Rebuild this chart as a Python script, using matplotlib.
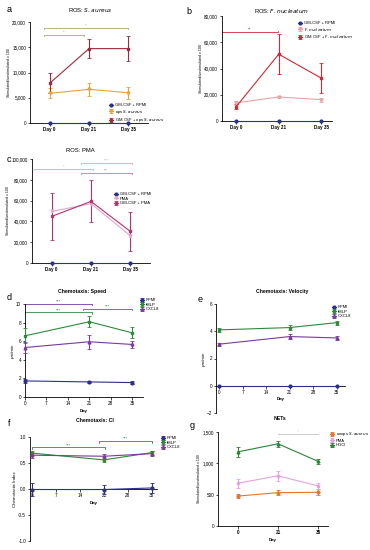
import numpy as np
import matplotlib
matplotlib.use('Agg')
import matplotlib.pyplot as plt

plt.rcParams['font.family'] = ['Liberation Sans', 'DejaVu Sans']

W, H = 370, 550

# ---- data ----
days_cat = ['Day 0', 'Day 21', 'Day 35']
days_num = [0, 21, 35]
day_ticks = [0, 7, 14, 21, 28, 35]

# a: ROS S. aureus
a_rpmi = [0, 0, 0]
a_ops = [5870, 6670, 6000]
a_ops_err = [1000, 1330, 1170]
a_gm_ops = [7870, 14730, 14730]
a_gm_ops_err = [2000, 1930, 2500]

# b: ROS F. nucleatum
b_rpmi = [0, 0, 0]
b_fn = [13800, 18300, 16300]
b_fn_err = [1500, 1000, 1500]
b_gm_fn = [10800, 50900, 32600]
b_gm_fn_err = [2000, 15300, 11300]

# c: ROS PMA
c_rpmi = [0, 0, 0]
c_pma = [49600, 57000, 26200]
c_gm_pma = [44800, 59200, 30400]
c_gm_pma_err = [22400, 20200, 18400]

# d: speed
d_rpmi = [1.73, 1.62, 1.55]
d_rpmi_err = [0.22, 0.15, 0.15]
d_fmlp = [6.58, 8.09, 6.9]
d_fmlp_err = [0.8, 0.6, 0.6]
d_cxcl8 = [5.32, 5.94, 5.65]
d_cxcl8_err = [0.62, 0.75, 0.4]

# e: velocity
e_rpmi = [0, 0, 0]
e_fmlp = [4.1, 4.27, 4.63]
e_fmlp_err = [0.15, 0.2, 0.15]
e_cxcl8 = [3.05, 3.61, 3.51]
e_cxcl8_err = [0.1, 0.2, 0.15]

# f: CI
f_rpmi = [-0.01, -0.01, 0.02]
f_rpmi_err = [0.12, 0.08, 0.1]
f_fmlp = [0.69, 0.56, 0.7]
f_fmlp_err = [0.04, 0.04, 0.04]
f_cxcl8 = [0.65, 0.63, 0.68]
f_cxcl8_err = [0.05, 0.05, 0.05]

# g: NETs
g_ops = [478, 532, 538]
g_ops_err = [25, 40, 50]
g_pma = [683, 801, 640]
g_pma_err = [70, 80, 50]
g_hocl = [1183, 1312, 1032]
g_hocl_err = [80, 50, 40]
g_days = ['0', '21', '35']

BLUE = '#2b2f8f'
GREEN = '#2f8a3b'
PURPLE = '#7a3a9e'

fig = plt.figure(figsize=(W / 100, H / 100), dpi=100)


def add_ax(l, r, t, b):
    return fig.add_axes([l / W, 1 - b / H, (r - l) / W, (b - t) / H])


def style(ax, fs=3.3):
    for s in ['top', 'right']:
        ax.spines[s].set_visible(False)
    for s in ['left', 'bottom']:
        ax.spines[s].set_linewidth(0.6)
    ax.tick_params(labelsize=fs, width=0.5, length=1.8, pad=1)


def series(ax, x, y, err, color, marker, label):
    ax.errorbar(x, y, yerr=err, color=color, marker=marker, ms=2, lw=0.8,
                elinewidth=0.8, capsize=1.2, capthick=0.6, label=label,
                clip_on=False, zorder=3)


def sig(ax, x0, x1, y, txt, color, tick):
    ax.plot([x0, x0, x1, x1], [y - tick, y, y, y - tick], color=color,
            lw=0.6, clip_on=False)
    ax.text((x0 + x1) / 2, y, txt, ha='center', va='bottom', fontsize=3.2,
            color=color)


def legend(ax, loc, anchor, fs=3.0):
    ax.legend(loc=loc, bbox_to_anchor=anchor, bbox_transform=fig.transFigure,
              frameon=False, fontsize=fs, handlelength=1.0, handletextpad=0.4,
              labelspacing=0.15, borderpad=0)


def title(ax, txt, x, y, bold=False, fs=4.2):
    fig.text(x / W, 1 - y / H, txt, ha='center', va='center', fontsize=fs,
             fontweight='bold' if bold else 'normal')


def letter(txt, x, y):
    fig.text(x / W, 1 - y / H, txt, ha='center', va='center', fontsize=6.5)


xc = np.arange(3)

# ---- a ----
ax = add_ax(30, 148, 22, 123)
style(ax)
series(ax, xc, a_rpmi, None, BLUE, 'o', 'GM-CSF + RPMI')
series(ax, xc, a_ops, a_ops_err, '#e8a33d', 'v', 'ops $\\it{S. aureus}$')
series(ax, xc, a_gm_ops, a_gm_ops_err, '#9e2a3c', 's',
       'GM-CSF + ops $\\it{S. aureus}$')
ax.set_xlim(-0.5, 2.5)
ax.set_ylim(0, 20000)
ax.set_yticks([0, 5000, 10000, 15000, 20000])
ax.set_yticklabels(['0', '5,000', '10,000', '15,000', '20,000'])
ax.set_xticks(xc)
ax.set_xticklabels(days_cat, fontweight='bold')
ax.set_ylabel('Stimulated/unstimulated x 100', fontsize=2.6, labelpad=1)
sig(ax, -0.15, 2.0, 18800, '*', '#b1a86d', 250)
sig(ax, -0.15, 0.87, 17500, '*', '#b1a86d', 250)
legend(ax, 'upper left', (107 / W, 1 - 101 / H))
letter('a', 9, 10)
title(ax, 'ROS: $\\it{S. aureus}$', 90, 10)

# ---- b ----
ax = add_ax(222, 332, 16, 121)
style(ax)
series(ax, xc, b_rpmi, None, BLUE, 'o', 'GM-CSF + RPMI')
series(ax, xc, b_fn, b_fn_err, '#e9a3a8', 'v', '$\\it{F. nucleatum}$')
series(ax, xc, b_gm_fn, b_gm_fn_err, '#cc2a36', 's',
       'GM-CSF + $\\it{F. nucleatum}$')
ax.set_xlim(-0.33, 2.25)
ax.set_ylim(0, 80000)
ax.set_yticks([0, 20000, 40000, 60000, 80000])
ax.set_yticklabels(['0', '20,000', '40,000', '60,000', '80,000'])
ax.set_xticks(xc)
ax.set_xticklabels(days_cat, fontweight='bold')
ax.set_ylabel('Stimulated/unstimulated x 100', fontsize=2.6, labelpad=1)
sig(ax, -0.33, 0.98, 67700, '**', '#cc2a36', -1000)
legend(ax, 'upper left', (296 / W, 1 - 19 / H))
letter('b', 189, 11)
title(ax, 'ROS: $\\it{F. nucleatum}$', 282, 11)

# ---- c ----
ax = add_ax(32, 150, 159, 263)
style(ax)
series(ax, xc, c_rpmi, None, BLUE, 'o', 'GM-CSF + RPMI')
series(ax, xc, c_pma, None, '#e3a6cf', 'v', 'PMA')
series(ax, xc, c_gm_pma, c_gm_pma_err, '#b3336f', 's', 'GM-CSF + PMA')
ax.set_xlim(-0.5, 2.5)
ax.set_ylim(0, 100000)
ax.set_yticks([0, 20000, 40000, 60000, 80000, 100000])
ax.set_yticklabels(['0', '20,000', '40,000', '60,000', '80,000', '100,000'])
ax.set_xticks(xc)
ax.set_xticklabels(days_cat, fontweight='bold')
ax.set_ylabel('Stimulated/unstimulated x 100', fontsize=2.6, labelpad=1)
sig(ax, -0.45, 1.05, 90200, '*', '#dba3cc', 1200)
sig(ax, 0.74, 2.03, 96000, '***', '#dba3cc', 1200)
sig(ax, 0.74, 2.03, 86400, '**', '#c978b0', 1200)
legend(ax, 'upper left', (112 / W, 1 - 190 / H))
letter('c', 9, 160)
title(ax, 'ROS: PMA', 80, 150)

# ---- d ----
ax = add_ax(25, 143, 304, 397)
style(ax)
series(ax, days_num, d_rpmi, d_rpmi_err, BLUE, 'o', 'RPMI')
series(ax, days_num, d_fmlp, d_fmlp_err, GREEN, 's', 'fMLP')
series(ax, days_num, d_cxcl8, d_cxcl8_err, PURPLE, '^', 'CXCL8')
ax.set_xlim(0, 38.5)
ax.set_ylim(0, 10)
ax.set_yticks([0, 2, 4, 6, 8, 10])
ax.set_xticks(day_ticks)
ax.set_xlabel('Day', fontsize=3.2, labelpad=2, fontweight='bold')
ax.set_ylabel('µm/min', fontsize=3.2, labelpad=1)
sig(ax, 0, 22, 10, '***', PURPLE, 0.15)
sig(ax, 0, 22, 9.1, '***', GREEN, 0.15)
sig(ax, 19, 35, 9.5, '***', GREEN, 0.15)
legend(ax, 'upper left', (138 / W, 1 - 296 / H))
letter('d', 9, 298)
title(ax, 'Chemotaxis: Speed', 82, 292, bold=True, fs=3.7)

# ---- e ----
ax = add_ax(216, 345, 304, 413)
style(ax)
ax.spines['bottom'].set_position(('data', 0))
series(ax, days_num, e_rpmi, None, BLUE, 'o', 'RPMI')
series(ax, days_num, e_fmlp, e_fmlp_err, GREEN, 's', 'fMLP')
series(ax, days_num, e_cxcl8, e_cxcl8_err, PURPLE, '^', 'CXCL8')
ax.set_xlim(-0.9, 37.5)
ax.set_ylim(-2, 6)
ax.set_yticks([-2, 0, 2, 4, 6])
ax.set_xticks(day_ticks)
ax.set_xlabel('Day', fontsize=3.2, labelpad=2, fontweight='bold')
ax.set_ylabel('µm/min', fontsize=3.2, labelpad=1)
legend(ax, 'upper left', (330 / W, 1 - 303 / H))
letter('e', 200, 299)
title(ax, 'Chemotaxis: Velocity', 282, 292, bold=True, fs=3.7)

# ---- f ----
ax = add_ax(30, 157, 437, 541)
style(ax)
ax.spines['bottom'].set_position(('data', 0))
series(ax, days_num, f_rpmi, f_rpmi_err, BLUE, 'o', 'RPMI')
series(ax, days_num, f_fmlp, f_fmlp_err, GREEN, 's', 'fMLP')
series(ax, days_num, f_cxcl8, f_cxcl8_err, PURPLE, '^', 'CXCL8')
ax.set_xlim(-0.6, 36.5)
ax.set_ylim(-1, 1)
ax.set_yticks([-1, -0.5, 0, 0.5, 1])
ax.set_yticklabels(['-1.0', '-0.5', '0.0', '0.5', '1.0'])
ax.set_xticks(day_ticks)
ax.set_xlabel('Day', fontsize=3.2, labelpad=2, fontweight='bold')
ax.set_ylabel('Chemotactic Index', fontsize=3.2, labelpad=1)
sig(ax, 0, 21.3, 0.8, '***', GREEN, 0.03)
sig(ax, 19.5, 35, 0.92, '***', GREEN, 0.03)
legend(ax, 'upper left', (159 / W, 1 - 434 / H))
letter('f', 9, 424)
title(ax, 'Chemotaxis: CI', 95, 421, bold=True, fs=3.7)

# ---- g ----
ax = add_ax(218, 328, 432, 526)
style(ax)
series(ax, xc, g_ops, g_ops_err, '#e4772e', 'o', 'unops $\\it{S. aureus}$')
series(ax, xc, g_pma, g_pma_err, '#e7a3dc', 's', 'PMA')
series(ax, xc, g_hocl, g_hocl_err, '#2a8636', '^', 'HOCl')
ax.set_xlim(-0.5, 2.25)
ax.set_ylim(0, 1500)
ax.set_yticks([0, 500, 1000, 1500])
ax.set_yticklabels(['0', '500', '1,000', '1,500'])
ax.set_xticks(xc)
ax.set_xticklabels(g_days, fontweight='bold')
ax.set_xlabel('Day', fontsize=3.2, labelpad=2, fontweight='bold')
ax.set_ylabel('Stimulated/unstimulated x 100', fontsize=2.6, labelpad=1)
sig(ax, 1, 2, 1468, '*', '#c8c0c8', 0)
legend(ax, 'upper left', (328 / W, 1 - 428 / H))
letter('g', 192, 425)
title(ax, 'NETs', 280, 418, bold=True, fs=3.7)

fig.savefig('out.png', dpi=100)
